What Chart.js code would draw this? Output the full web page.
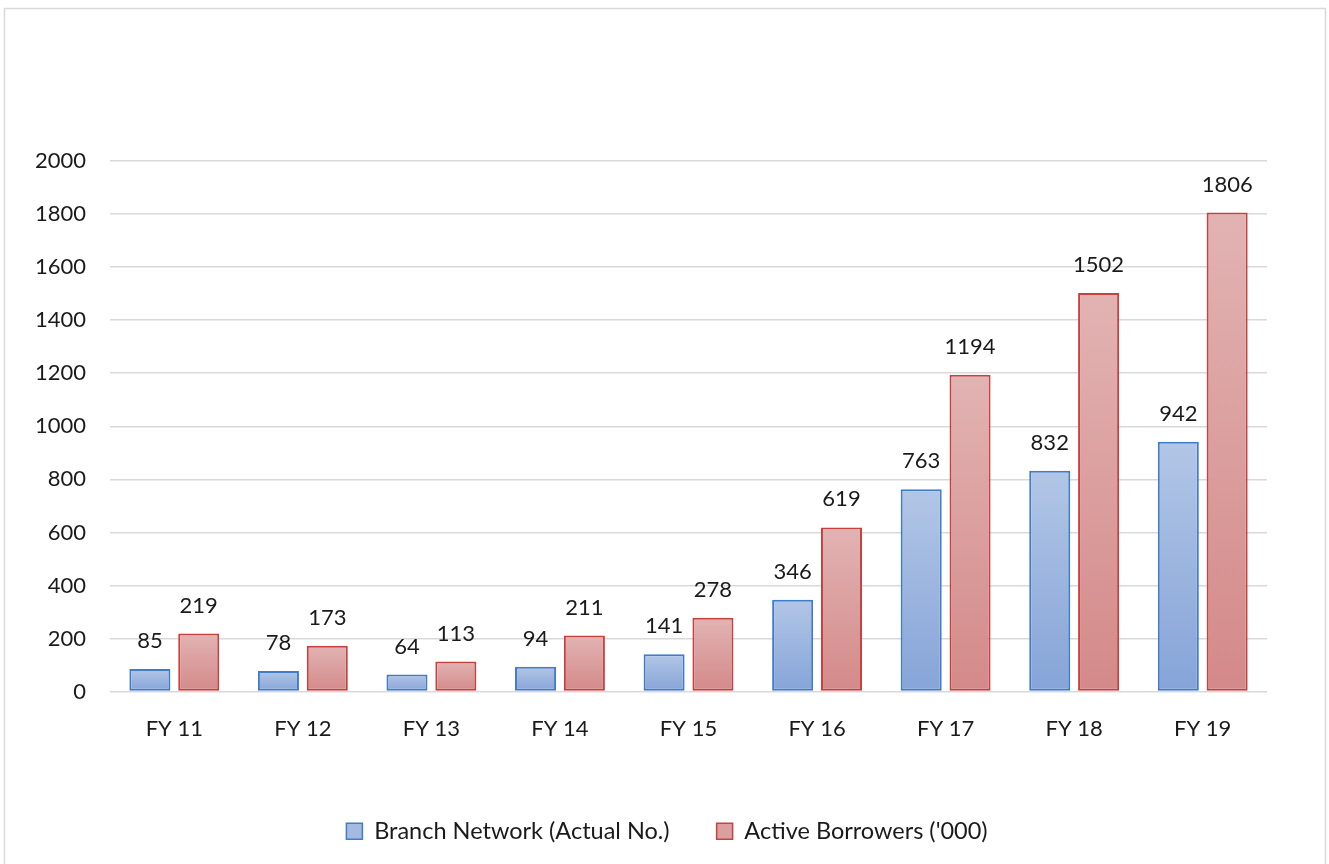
<!DOCTYPE html>
<html>
<head>
<meta charset="utf-8">
<title>Branch Network and Active Borrowers</title>
<script src="https://cdn.jsdelivr.net/npm/chart.js@4/dist/chart.umd.min.js"></script>
<style>
    html, body { margin: 0; padding: 0; background: #ffffff; overflow: hidden; }
    #wrap { position: absolute; left: 0; top: 0; width: 1329px; height: 877px; }
</style>
</head>
<body>
<div id="wrap"><canvas id="growthChart"></canvas></div>
<script>
    // Datos por año fiscal
    const years = ['FY 11', 'FY 12', 'FY 13', 'FY 14', 'FY 15', 'FY 16', 'FY 17', 'FY 18', 'FY 19'];
    const branchNetwork = [85, 78, 64, 94, 141, 346, 763, 832, 942];
    const activeBorrowers = [219, 173, 113, 211, 278, 619, 1194, 1502, 1806];
    const yTicks = [0, 200, 400, 600, 800, 1000, 1200, 1400, 1600, 1800, 2000];

    const FONT = "Lato, 'Open Sans', sans-serif";
    const TEXT = '#1a1a1a';

    // Degradado vertical por barra (claro arriba, más intenso abajo)
    function barGradient(top, bottom) {
        return function(context) {
            const chart = context.chart;
            const y = chart.scales && chart.scales.y;
            if (!y || context.raw === undefined) return bottom;
            const y0 = y.getPixelForValue(context.raw);
            const y1 = y.getPixelForValue(0);
            if (!isFinite(y0) || !isFinite(y1) || y0 === y1) return bottom;
            const g = chart.ctx.createLinearGradient(0, y0, 0, y1);
            g.addColorStop(0, top);
            g.addColorStop(1, bottom);
            return g;
        };
    }

    // Marco gris alrededor del gráfico
    const framePlugin = {
        id: 'frame',
        beforeDraw: function(chart) {
            const ctx = chart.ctx;
            ctx.save();
            ctx.fillStyle = '#ffffff';
            ctx.fillRect(0, 0, chart.width, chart.height);
            ctx.strokeStyle = '#d9d9d9';
            ctx.lineWidth = 1.5;
            ctx.strokeRect(4.5, 8.5, 1321, 900);
            ctx.restore();
        }
    };

    // La leyenda se centra sobre toda la página, no sobre el área de trazado
    const legendShift = {
        id: 'legendShift',
        afterLayout: function(chart) {
            if (chart.legend) {
                chart.legend.left += 28;
                chart.legend.right += 28;
            }
        }
    };

    // Etiquetas de valor encima de cada barra
    const valueLabels = {
        id: 'valueLabels',
        afterDatasetsDraw: function(chart) {
            const ctx = chart.ctx;
            ctx.save();
            ctx.font = '22px ' + FONT;
            ctx.fillStyle = TEXT;
            ctx.textAlign = 'center';
            ctx.textBaseline = 'middle';
            chart.data.datasets.forEach(function(ds, i) {
                chart.getDatasetMeta(i).data.forEach(function(bar, j) {
                    ctx.fillText(String(ds.data[j]), bar.x, bar.y - 28);
                });
            });
            ctx.restore();
        }
    };

    new Chart(document.getElementById('growthChart'), {
        type: 'bar',
        data: {
            labels: years,
            datasets: [{
                label: 'Branch Network (Actual No.)',
                data: branchNetwork,
                backgroundColor: barGradient('#b2c6e6', '#86a4d8'),
                borderColor: '#3f7cca',
                borderWidth: 2,
                borderSkipped: false,
                categoryPercentage: 0.76,
                barPercentage: 0.84
            }, {
                label: "Active Borrowers ('000)",
                data: activeBorrowers,
                backgroundColor: barGradient('#e2b3b3', '#d48989'),
                borderColor: '#c9413f',
                borderWidth: 2,
                borderSkipped: false,
                categoryPercentage: 0.76,
                barPercentage: 0.84
            }]
        },
        options: {
            responsive: true,
            maintainAspectRatio: false,
            animation: false,
            layout: {
                padding: { left: 11, right: 62, top: 161, bottom: 24 }
            },
            plugins: {
                legend: {
                    position: 'bottom',
                    labels: {
                        boxWidth: 16,
                        boxHeight: 16,
                        padding: 47,
                        color: TEXT,
                        font: { family: FONT, size: 23.5 },
                        generateLabels: function(chart) {
                            const fills = ['#a3bbe2', '#dc9f9f'];
                            return chart.data.datasets.map(function(ds, i) {
                                return {
                                    text: ds.label,
                                    fillStyle: fills[i],
                                    strokeStyle: ds.borderColor,
                                    lineWidth: 1.5,
                                    datasetIndex: i,
                                    fontColor: TEXT
                                };
                            });
                        }
                    }
                },
                tooltip: { enabled: false }
            },
            scales: {
                x: {
                    grid: { display: false },
                    border: { display: false },
                    ticks: {
                        color: TEXT,
                        padding: 16,
                        font: { family: FONT, size: 22 }
                    },
                    afterFit: function(scale) {
                        scale.height += 14.5;
                    }
                },
                y: {
                    min: 0,
                    max: 2000,
                    afterBuildTicks: function(scale) {
                        scale.ticks = yTicks.map(function(v) { return { value: v }; });
                    },
                    grid: {
                        color: '#d9d9d9',
                        lineWidth: 1.5,
                        drawTicks: false
                    },
                    border: { display: false },
                    ticks: {
                        color: TEXT,
                        padding: 24,
                        font: { family: FONT, size: 22 },
                        callback: function(value) {
                            return String(value);
                        }
                    }
                }
            }
        },
        plugins: [framePlugin, legendShift, valueLabels]
    });
</script>
</body>
</html>
